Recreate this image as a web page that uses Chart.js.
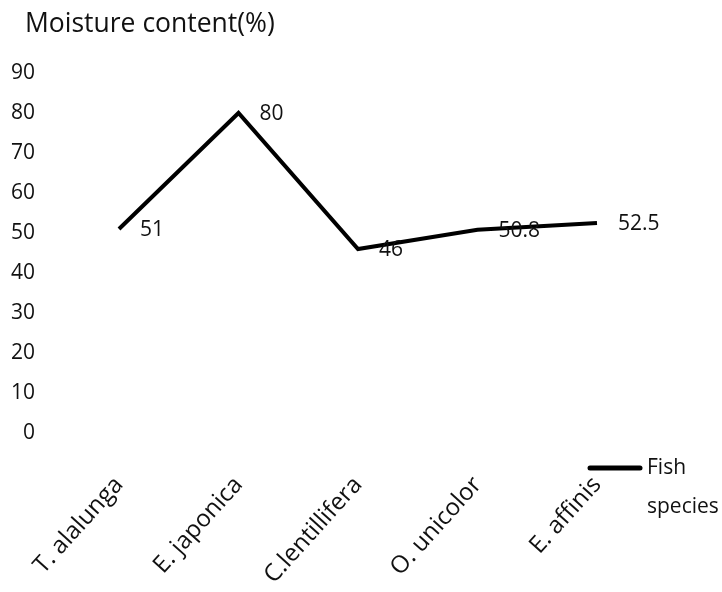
<!DOCTYPE html>
<html>
<head>
<meta charset="utf-8">
<style>
  html, body { margin: 0; padding: 0; background: #ffffff; }
  #wrap { width: 722px; height: 592px; position: relative; }
</style>
<script src="https://cdn.jsdelivr.net/npm/chart.js@4/dist/chart.umd.min.js"></script>
</head>
<body>
<div id="wrap"><canvas id="chart" width="722" height="592"></canvas></div>
<script>
// Moisture content of five fish species
const species = ['T. alalunga', 'E. japonica', 'C.lentillifera', 'O. unicolor', 'E. affinis'];
const moisture = [51, 80, 46, 50.8, 52.5];
const seriesName = 'Fish species';
const axisTitle = 'Moisture content(%)';
const yTicks = [0, 10, 20, 30, 40, 50, 60, 70, 80, 90];

const FONT = '"Open Sans", "DejaVu Sans", sans-serif';
const INK = '#111111';

// Heading in the top-left corner
const headingPlugin = {
  id: 'heading',
  afterDraw(chart) {
    const ctx = chart.ctx;
    ctx.save();
    ctx.font = '26.5px ' + FONT;
    ctx.fillStyle = INK;
    ctx.textAlign = 'left';
    ctx.textBaseline = 'alphabetic';
    ctx.fillText(axisTitle, 25, 32);
    ctx.restore();
  }
};

// Value written to the right of each point
const valueLabels = {
  id: 'valueLabels',
  afterDatasetsDraw(chart) {
    const ctx = chart.ctx;
    ctx.save();
    ctx.font = '21px ' + FONT;
    ctx.fillStyle = INK;
    ctx.textAlign = 'left';
    ctx.textBaseline = 'middle';
    chart.data.datasets.forEach((ds, i) => {
      chart.getDatasetMeta(i).data.forEach((pt, j) => {
        ctx.fillText(String(ds.data[j]), pt.x + 21, pt.y + 1);
      });
    });
    ctx.restore();
  }
};

// Legend entry below the right end of the plot, label wrapped over two lines
const sideLegend = {
  id: 'sideLegend',
  afterDraw(chart) {
    const ctx = chart.ctx;
    const area = chart.chartArea;
    const ds = chart.data.datasets[0];
    const x0 = area.right - 7;
    const y0 = area.bottom + 35;
    ctx.save();
    ctx.strokeStyle = ds.borderColor;
    ctx.lineWidth = ds.borderWidth + 1;
    ctx.lineCap = 'round';
    ctx.beginPath();
    ctx.moveTo(x0, y0);
    ctx.lineTo(x0 + 50, y0);
    ctx.stroke();
    ctx.font = '21px ' + FONT;
    ctx.fillStyle = INK;
    ctx.textAlign = 'left';
    ctx.textBaseline = 'middle';
    ds.label.split(' ').forEach((word, k) => {
      ctx.fillText(word, x0 + 57, y0 + k * 39);
    });
    ctx.restore();
  }
};

new Chart(document.getElementById('chart'), {
  type: 'line',
  data: {
    labels: species,
    datasets: [{
      label: seriesName,
      data: moisture,
      borderColor: '#000000',
      backgroundColor: '#000000',
      borderWidth: 4,
      pointRadius: 0,
      pointHoverRadius: 0,
      tension: 0,
      fill: false
    }]
  },
  options: {
    responsive: false,
    animation: false,
    events: [],
    layout: { padding: { top: 73, right: 125, bottom: 0, left: 0 } },
    plugins: {
      legend: { display: false },
      title: { display: false },
      tooltip: { enabled: false }
    },
    scales: {
      x: {
        offset: false,
        grid: { display: false, drawTicks: false },
        border: { display: false },
        ticks: {
          autoSkip: false,
          minRotation: 48,
          maxRotation: 48,
          padding: 38,
          color: INK,
          font: { family: FONT, size: 24 }
        },
        afterFit(scale) { scale.height = 159; }
      },
      y: {
        min: 0,
        max: 90,
        grid: { display: false, drawTicks: false },
        border: { display: false },
        afterBuildTicks(scale) { scale.ticks = yTicks.map(v => ({ value: v })); },
        ticks: {
          padding: 84,
          color: INK,
          font: { family: FONT, size: 21 }
        },
        afterFit(scale) {
          // the wide label gap should not push the plot down from the top
          scale.width = 119;
          scale.paddingTop = 13;
          scale.paddingBottom = 13;
        }
      }
    }
  },
  plugins: [headingPlugin, valueLabels, sideLegend]
});
</script>
</body>
</html>
